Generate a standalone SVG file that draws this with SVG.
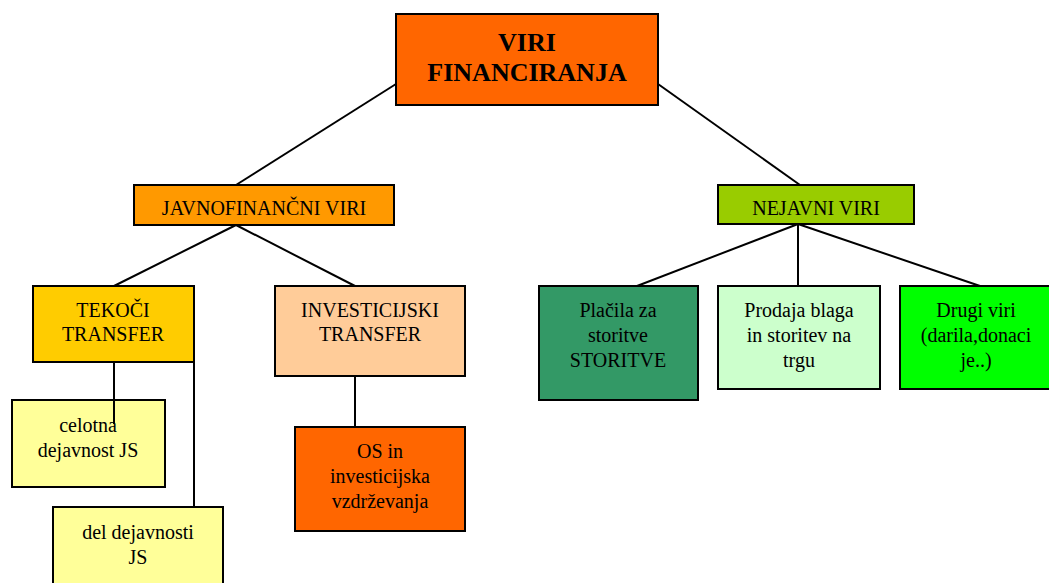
<svg xmlns="http://www.w3.org/2000/svg" width="1049" height="583" viewBox="0 0 1049 583">
<style>
rect{stroke:#000;stroke-width:2}
text{font-family:"Liberation Serif","Times New Roman",serif;font-size:20px;fill:#000;text-anchor:middle}
.b{font-weight:bold;font-size:26px}
#connectors line{stroke:#000;stroke-width:2}
</style>
<rect x="0" y="0" width="1049" height="583" fill="#fff" style="stroke:none"/>
<g id="viri-financiranja">
<rect x="396" y="14" width="262" height="91" fill="#FF6600"/>
<text class="b" x="527" y="51">VIRI</text>
<text class="b" x="527" y="81">FINANCIRANJA</text>
</g>
<g id="javnofinancni">
<rect x="134" y="185" width="260" height="40" fill="#FF9900"/>
<text x="264" y="215">JAVNOFINANČNI VIRI</text>
</g>
<g id="nejavni">
<rect x="718" y="185" width="196" height="39" fill="#99CC00"/>
<text x="816" y="215">NEJAVNI VIRI</text>
</g>
<g id="tekoci">
<rect x="33" y="286" width="161" height="76" fill="#FFCC00"/>
<text x="113" y="317">TEKOČI</text>
<text x="113" y="341">TRANSFER</text>
</g>
<g id="investicijski">
<rect x="275" y="286" width="190" height="90" fill="#FFCC99"/>
<text x="370" y="317">INVESTICIJSKI</text>
<text x="370" y="341">TRANSFER</text>
</g>
<g id="celotna">
<rect x="12" y="400" width="153" height="87" fill="#FFFF99"/>
<text x="88" y="432">celotna</text>
<text x="88" y="457">dejavnost JS</text>
</g>
<g id="del">
<rect x="53" y="507" width="170" height="80" fill="#FFFF99"/>
<text x="138" y="539">del dejavnosti</text>
<text x="138" y="564">JS</text>
</g>
<g id="os">
<rect x="295" y="427" width="170" height="104" fill="#FF6600"/>
<text x="380" y="458">OS in</text>
<text x="380" y="483">investicijska</text>
<text x="380" y="508">vzdrževanja</text>
</g>
<g id="placila">
<rect x="539" y="286" width="159" height="114" fill="#339966"/>
<text x="618" y="317">Plačila za</text>
<text x="618" y="342">storitve</text>
<text x="618" y="367">STORITVE</text>
</g>
<g id="prodaja">
<rect x="718" y="286" width="162" height="103" fill="#CCFFCC"/>
<text x="799" y="317">Prodaja blaga</text>
<text x="799" y="342">in storitev na</text>
<text x="799" y="367">trgu</text>
</g>
<g id="drugi">
<rect x="900" y="286" width="152" height="103" fill="#00FF00"/>
<text x="976" y="317">Drugi viri</text>
<text x="976" y="342">(darila,donaci</text>
<text x="976" y="367">je..)</text>
</g>
<g id="connectors">
<line x1="396" y1="84" x2="236" y2="185"/>
<line x1="658" y1="84" x2="800" y2="185"/>
<line x1="236" y1="225" x2="114" y2="286"/>
<line x1="236" y1="225" x2="355" y2="286"/>
<line x1="114" y1="362" x2="114" y2="424"/>
<line x1="194" y1="362" x2="194" y2="507"/>
<line x1="355" y1="376" x2="355" y2="427"/>
<line x1="798" y1="224" x2="637" y2="286"/>
<line x1="798" y1="224" x2="798" y2="286"/>
<line x1="798" y1="224" x2="980" y2="286"/>
</g>
</svg>
